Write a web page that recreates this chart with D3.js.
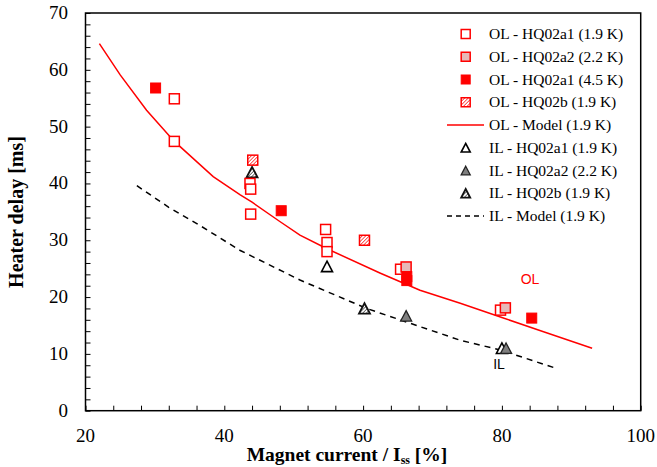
<!DOCTYPE html>
<html><head><meta charset="utf-8">
<script src="https://cdn.jsdelivr.net/npm/d3@7"></script>
<style>body{margin:0;background:#fff}svg{display:block}</style>
</head><body><svg id="c" width="657" height="467"></svg>
<script>
const xTicks=[20,40,60,80,100];
const yTicks=[0,10,20,30,40,50,60,70];
const olModelX=[22,25,28.8,32.8,38.4,42.3,44,48,50.9,54.8,62.5,68.2,74,80,86,93];
const olModelY=[64.6,59.1,52.9,47.4,41.2,38.0,36.7,33.3,30.9,28.5,24.2,21.2,18.9,16.4,13.9,11.0];
const ilModelX=[27.4,32,36.75,42.3,50.9,60.5,68.2,74,79.75,87.7];
const ilModelY=[39.6,35.8,32.4,28.2,23.0,18.0,14.8,12.4,10.7,7.5];
const olA1_19=[[32.8,54.9],[32.8,47.4],[43.7,40.0],[43.8,39.0],[43.8,34.6],[54.6,31.9],[54.8,29.6],[54.8,28.0],[65.4,24.9],[79.8,17.7]];
const olA2_22=[[66.2,25.3],[80.5,18.1]];
const olA1_45=[[30.1,56.8],[48.2,35.2],[66.3,23.6],[66.3,22.9],[84.3,16.3]];
const olB_19=[[44.1,44.1],[60.2,30.0]];
const ilA1_19=[[54.8,25.4],[80.0,11.0]];
const ilA2_22=[[66.2,16.7],[80.6,11.0]];
const ilB_19=[[44.0,42.0],[60.2,18.0]];
const legendLabels=["OL - HQ02a1 (1.9 K)","OL - HQ02a2 (2.2 K)","OL - HQ02a1 (4.5 K)","OL - HQ02b (1.9 K)","OL - Model (1.9 K)","IL - HQ02a1 (1.9 K)","IL - HQ02a2 (2.2 K)","IL - HQ02b (1.9 K)","IL - Model (1.9 K)"];

const svg=d3.select("#c");
const L=85.5,R=640.7,T=13,B=410.7;
const x=d3.scaleLinear().domain([20,100]).range([L,R]);
const y=d3.scaleLinear().domain([0,70]).range([B,T]);
const serif="'Liberation Serif','Times New Roman',serif";
const sans="'Liberation Sans',Arial,sans-serif";

const defs=svg.append("defs");
const p1=defs.append("pattern").attr("id","hr").attr("patternUnits","userSpaceOnUse").attr("width",2.5).attr("height",2.5).attr("patternTransform","rotate(45)");
p1.append("rect").attr("width",2.5).attr("height",2.5).attr("fill","#fff");
p1.append("line").attr("x1",0).attr("y1",0).attr("x2",0).attr("y2",2.5).attr("stroke","#f00").attr("stroke-width",1.3);
const p2=defs.append("pattern").attr("id","hk").attr("patternUnits","userSpaceOnUse").attr("width",2.5).attr("height",2.5).attr("patternTransform","rotate(45)");
p2.append("rect").attr("width",2.5).attr("height",2.5).attr("fill","#fff");
p2.append("line").attr("x1",0).attr("y1",0).attr("x2",0).attr("y2",2.5).attr("stroke","#333").attr("stroke-width",1.3);

// axes
const xMinor=d3.range(20,101,4);
const yMinor=d3.range(0,71,2);
svg.append("g").attr("transform",`translate(0,${B})`)
 .call(d3.axisBottom(x).tickValues(xMinor).tickSize(-5).tickFormat(""))
 .call(g=>g.select(".domain").remove()).selectAll("line").attr("stroke","#000");
svg.append("g").attr("transform",`translate(${L},0)`)
 .call(d3.axisLeft(y).tickValues(yMinor).tickSize(-5).tickFormat(""))
 .call(g=>g.select(".domain").remove()).selectAll("line").attr("stroke","#000");
svg.append("rect").attr("x",L).attr("y",T).attr("width",R-L).attr("height",B-T).attr("fill","none").attr("stroke","#000").attr("stroke-width",1.5);
svg.append("g").selectAll("text").data(xTicks).join("text")
 .attr("x",d=>x(d)).attr("y",442).attr("text-anchor","middle").attr("font-family",serif).attr("font-size",19).text(d=>d);
svg.append("g").selectAll("text").data(yTicks).join("text")
 .attr("x",68).attr("y",d=>y(d)+6).attr("text-anchor","end").attr("font-family",serif).attr("font-size",19).text(d=>d);
const xt=svg.append("text").attr("x",347).attr("y",461).attr("text-anchor","middle").attr("font-family",serif).attr("font-size",19.5).attr("font-weight","bold");
xt.append("tspan").text("Magnet current / I");
xt.append("tspan").attr("font-size",12).attr("dy",3).text("ss");
xt.append("tspan").attr("dy",-3).text(" [%]");
svg.append("text").attr("transform","translate(23,212) rotate(-90)").attr("text-anchor","middle").attr("font-family",serif).attr("font-size",20).attr("font-weight","bold").text("Heater delay [ms]");

// model lines
const line=d3.line().x(d=>x(d[0])).y(d=>y(d[1]));
svg.append("path").datum(olModelX.map((v,i)=>[v,olModelY[i]])).attr("d",line).attr("fill","none").attr("stroke","#f00").attr("stroke-width",1.5);
svg.append("path").datum(ilModelX.map((v,i)=>[v,ilModelY[i]])).attr("d",line).attr("fill","none").attr("stroke","#000").attr("stroke-width",1.5).attr("stroke-dasharray","6,5");

// markers
function sq(g,cx,cy,s,st){g.append("rect").attr("x",cx-s/2).attr("y",cy-s/2).attr("width",s).attr("height",s).attr("fill",st.fill).attr("stroke",st.stroke).attr("stroke-width",st.sw);}
function tri(g,cx,cy,s,st){const h=s*0.95;g.append("path").attr("d",`M${cx},${cy-h/2}L${cx+s/2},${cy+h/2}L${cx-s/2},${cy+h/2}Z`).attr("fill",st.fill).attr("stroke",st.stroke).attr("stroke-width",st.sw).attr("stroke-linejoin","miter");}
const stOpen={fill:"#fff",stroke:"#f00",sw:1.5}, stPink={fill:"#e6b9b8",stroke:"#f00",sw:1.5}, stFill={fill:"#f00",stroke:"#f00",sw:1}, stHatch={fill:"url(#hr)",stroke:"#f00",sw:1.5};
const tOpen={fill:"#fff",stroke:"#000",sw:1.6}, tGrey={fill:"#7f7f7f",stroke:"#222",sw:1.3}, tHatch={fill:"url(#hk)",stroke:"#111",sw:1.8};
const m=svg.append("g");
ilA1_19.forEach(d=>tri(m,x(d[0]),y(d[1]),11,tOpen));
ilA2_22.forEach(d=>tri(m,x(d[0]),y(d[1]),11,tGrey));
ilB_19.forEach(d=>tri(m,x(d[0]),y(d[1]),11,tHatch));
olA1_19.forEach(d=>sq(m,x(d[0]),y(d[1]),10,stOpen));
olA2_22.forEach(d=>sq(m,x(d[0]),y(d[1]),10,stPink));
olA1_45.forEach(d=>sq(m,x(d[0]),y(d[1]),10,stFill));
olB_19.forEach(d=>sq(m,x(d[0]),y(d[1]),10,stHatch));

// annotations
svg.append("text").attr("x",530).attr("y",284).attr("text-anchor","middle").attr("font-family",sans).attr("font-size",14).attr("fill","#f00").text("OL");
svg.append("text").attr("x",499).attr("y",369).attr("text-anchor","middle").attr("font-family",sans).attr("font-size",14).attr("fill","#000").text("IL");

// legend
const lg=svg.append("g");
const styles=[["sq",stOpen],["sq",stPink],["sq",stFill],["sq",stHatch],["line","#f00"],["tri",tOpen],["tri",tGrey],["tri",tHatch],["dash","#000"]];
legendLabels.forEach((t,i)=>{
 const cy=34+i*22.75, cx=465.7;
 const [k,s]=styles[i];
 if(k==="sq") sq(lg,cx,cy,9,s);
 else if(k==="tri") tri(lg,cx,cy,9,s);
 else lg.append("line").attr("x1",447).attr("x2",484).attr("y1",cy).attr("y2",cy).attr("stroke",s).attr("stroke-width",1.5).attr("stroke-dasharray",k==="dash"?"5,4":null);
 lg.append("text").attr("x",489).attr("y",cy+5).attr("font-family",serif).attr("font-size",15.5).text(t);
});
</script></body></html>
